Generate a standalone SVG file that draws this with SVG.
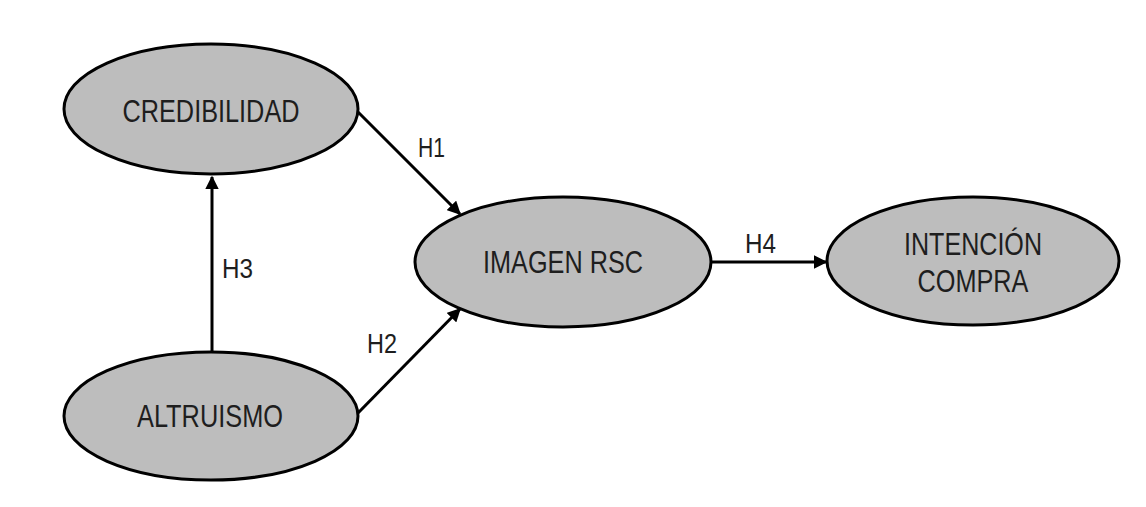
<svg xmlns="http://www.w3.org/2000/svg" width="1146" height="507" viewBox="0 0 1146 507">
<style>
.node ellipse{fill:#bdbdbd;stroke:#000;stroke-width:3}
.t{font-family:"Liberation Sans",Arial,sans-serif;font-size:31px;fill:#1e1e1e;text-anchor:middle}
.h{font-family:"Liberation Sans",Arial,sans-serif;font-size:28px;fill:#1e1e1e}
.edge{stroke:#000;stroke-width:3;fill:none;marker-end:url(#ah)}
</style>
<defs>
<marker id="ah" viewBox="0 0 10 10" refX="9" refY="5" markerWidth="4.5" markerHeight="4.5" orient="auto" markerUnits="strokeWidth">
<path d="M0,0 L10,5 L0,10 z" fill="#000"/>
</marker>
</defs>
<rect width="1146" height="507" fill="#fff"/>
<g id="connectors">
<line class="edge" x1="212" y1="352" x2="212" y2="177"/>
<line class="edge" x1="358" y1="112" x2="460" y2="214"/>
<line class="edge" x1="358" y1="413" x2="460" y2="309"/>
<line class="edge" x1="712" y1="262" x2="826" y2="262"/>
<text class="h" x="418" y="157" textLength="27" lengthAdjust="spacingAndGlyphs">H1</text>
<text class="h" x="367" y="353" textLength="30" lengthAdjust="spacingAndGlyphs">H2</text>
<text class="h" x="222" y="278" textLength="31" lengthAdjust="spacingAndGlyphs">H3</text>
<text class="h" x="745" y="253" textLength="31" lengthAdjust="spacingAndGlyphs">H4</text>
</g>
<g id="credibilidad" class="node">
<ellipse cx="211" cy="109" rx="147" ry="65"/>
<text class="t" x="211" y="122" textLength="177" lengthAdjust="spacingAndGlyphs">CREDIBILIDAD</text>
</g>
<g id="altruismo" class="node">
<ellipse cx="211" cy="416" rx="147" ry="64"/>
<text class="t" x="210" y="427" textLength="146" lengthAdjust="spacingAndGlyphs">ALTRUISMO</text>
</g>
<g id="imagen" class="node">
<ellipse cx="563" cy="262" rx="148" ry="65"/>
<text class="t" x="563" y="273" textLength="160" lengthAdjust="spacingAndGlyphs">IMAGEN RSC</text>
</g>
<g id="intencion" class="node">
<ellipse cx="973" cy="261" rx="146" ry="64"/>
<text class="t" x="973" y="255" textLength="138" lengthAdjust="spacingAndGlyphs">INTENCIÓN</text>
<text class="t" x="973" y="292" textLength="111" lengthAdjust="spacingAndGlyphs">COMPRA</text>
</g>
</svg>
